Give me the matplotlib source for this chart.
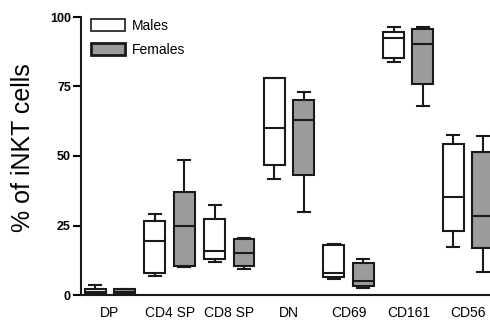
#!/usr/bin/env python3
"""
Box plot of iNKT cell subsets, males vs females.
"""

import matplotlib
matplotlib.use('Agg')
import matplotlib.pyplot as plt
from matplotlib.patches import Patch

matplotlib.rcParams['font.family'] = ['Liberation Sans', 'DejaVu Sans']

subsets = ["DP", "CD4 SP", "CD8 SP", "DN", "CD69", "CD161", "CD56"]

# five-number summaries: (low whisker, q1, median, q3, high whisker)
males = [
    (0.5, 0.5, 1.0, 2.0, 3.6),
    (7.0, 7.8, 19.5, 26.7, 29.0),
    (12.0, 13.0, 16.0, 27.3, 32.4),
    (41.6, 46.8, 60.2, 78.2, 78.2),
    (5.9, 6.6, 7.8, 18.0, 18.3),
    (83.9, 85.1, 92.3, 94.7, 96.5),
    (17.1, 23.1, 35.4, 54.3, 57.4),
]
females = [
    (0.3, 0.3, 1.0, 2.0, 2.0),
    (10.0, 10.5, 25.0, 37.0, 48.6),
    (9.2, 10.5, 15.0, 20.0, 20.4),
    (29.7, 43.2, 63.0, 70.1, 73.0),
    (2.4, 3.2, 5.2, 11.4, 13.0),
    (68.0, 75.8, 90.3, 95.7, 96.5),
    (8.4, 16.8, 28.5, 51.3, 57.2),
]

EDGE = '#1a1a1a'
FEMALE_FILL = '#9c9c9c'


def to_stats(rows):
    return [dict(whislo=r[0], q1=r[1], med=r[2], q3=r[3], whishi=r[4], fliers=[])
            for r in rows]


fig = plt.figure(figsize=(4.9, 3.21), dpi=100)
ax = fig.add_axes([80.7 / 490, 26 / 321, 1 - 80.7 / 490, 278 / 321])

off, w = 0.246, 0.35
line = dict(color=EDGE, linewidth=1.5)
for rows, sign, fill in [(males, -1, 'white'), (females, 1, FEMALE_FILL)]:
    pos = [i + sign * off for i in range(len(subsets))]
    bp = ax.bxp(to_stats(rows), positions=pos, widths=w, patch_artist=True,
                showfliers=False, capwidths=0.2,
                boxprops=dict(facecolor=fill, edgecolor=EDGE, linewidth=1.5),
                medianprops=line, whiskerprops=line, capprops=line)
    for group in bp.values():
        for artist in group:
            artist.set_clip_on(False)

ax.set_xlim(-0.49, 6.37)
ax.set_ylim(0, 100)
ax.set_yticks([0, 25, 50, 75, 100])
ax.set_xticks(range(len(subsets)))
ax.set_xticklabels(subsets, fontsize=10)
ax.tick_params(axis='x', length=0, pad=8)
ax.tick_params(axis='y', length=6, width=1.5, pad=1, labelsize=9)
for lab in ax.get_yticklabels():
    lab.set_fontweight('bold')
ax.set_ylabel('% of iNKT cells', fontsize=18)
ax.yaxis.set_label_coords(-0.1117, 0.529)
for side in ['top', 'right']:
    ax.spines[side].set_visible(False)
for side in ['left', 'bottom']:
    ax.spines[side].set_linewidth(1.5)
    ax.spines[side].set_color(EDGE)

handles = [Patch(facecolor='white', edgecolor=EDGE, linewidth=1.2, label='Males'),
           Patch(facecolor=FEMALE_FILL, edgecolor=EDGE, linewidth=2, label='Females')]
fig.legend(handles=handles, loc='upper left', bbox_to_anchor=(91 / 490, 1 - 19 / 321),
           frameon=False, fontsize=10, borderpad=0, borderaxespad=0,
           handlelength=2.45, handleheight=1.0, handletextpad=0.5, labelspacing=0.72)

plt.savefig('out.png', dpi=100)
plt.close()
